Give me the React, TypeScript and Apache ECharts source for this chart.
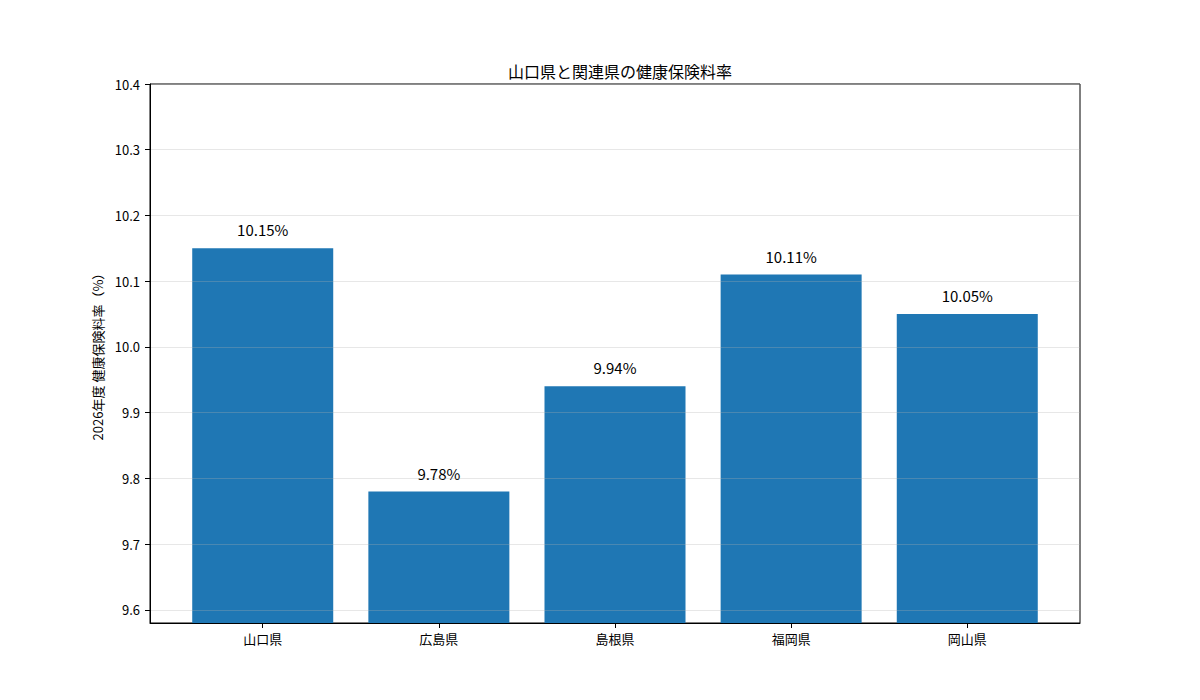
import * as echarts from "echarts"
import { useEffect, useRef } from "react"

const categories = ["山口県", "広島県", "島根県", "福岡県", "岡山県"]
const rates = [10.15, 9.78, 9.94, 10.11, 10.05]
const yTicks = [9.6, 9.7, 9.8, 9.9, 10.0, 10.1, 10.2, 10.3, 10.4]

const FONT = '"Noto Sans CJK JP", "Noto Sans", sans-serif'

export default function App(): React.ReactElement {
  const ref = useRef<HTMLDivElement>(null)

  useEffect(() => {
    const node = ref.current
    if (!node) return
    const chart = echarts.init(node, undefined, { renderer: "svg" })

    // the body has an 8px margin, so positions are shifted by -8
    chart.setOption({
      animation: false,
      backgroundColor: "#ffffff",
      textStyle: { fontFamily: FONT },
      title: {
        text: "山口県と関連県の健康保険料率",
        left: 607,
        top: 50,
        textAlign: "center",
        textStyle: { fontFamily: FONT, fontSize: 16, fontWeight: "normal", color: "#000" },
      },
      grid: {
        left: 142,
        top: 76,
        width: 930,
        height: 539,
        show: true,
        borderColor: "#000",
        borderWidth: 1,
        backgroundColor: "transparent",
      },
      xAxis: {
        type: "value",
        min: -0.64,
        max: 4.64,
        axisLine: { show: true, onZero: false, lineStyle: { color: "#000", width: 1 } },
        axisTick: {
          show: true,
          length: 5,
          customValues: categories.map((_, i) => i),
          lineStyle: { color: "#000" },
        },
        axisLabel: {
          customValues: categories.map((_, i) => i),
          formatter: (v: number) => categories[Math.round(v)] ?? "",
          fontFamily: FONT,
          fontSize: 13,
          color: "#000",
          margin: 9,
        },
        splitLine: { show: false },
      },
      yAxis: {
        type: "value",
        min: 9.58,
        max: 10.4,
        z: 3,
        name: "2026年度 健康保険料率（%）",
        nameLocation: "middle",
        nameGap: 44,
        nameRotate: 90,
        nameTextStyle: { fontFamily: FONT, fontSize: 13, color: "#000" },
        axisLine: { show: true, onZero: false, lineStyle: { color: "#000", width: 1 } },
        axisTick: {
          show: true,
          length: 5,
          customValues: yTicks,
          lineStyle: { color: "#000" },
        },
        axisLabel: {
          customValues: yTicks,
          formatter: (v: number) => v.toFixed(1),
          fontFamily: FONT,
          fontSize: 13,
          color: "#000",
          margin: 10,
        },
        splitLine: {
          show: true,
          lineStyle: { color: "rgba(176,176,176,0.3)", width: 1 },
        },
      },
      series: [
        {
          type: "bar",
          data: rates.map((v, i) => [i, v]),
          barWidth: 141,
          itemStyle: { color: "#1f77b4", borderWidth: 0 },
          label: {
            show: true,
            position: "top",
            distance: 11,
            formatter: (p: { value: number[] }) => `${p.value[1].toFixed(2)}%`,
            fontFamily: FONT,
            fontSize: 15,
            color: "#000",
          },
        },
      ],
    })

    return () => chart.dispose()
  }, [])

  return <div ref={ref} style={{ width: 1184, height: 684 }} />
}
